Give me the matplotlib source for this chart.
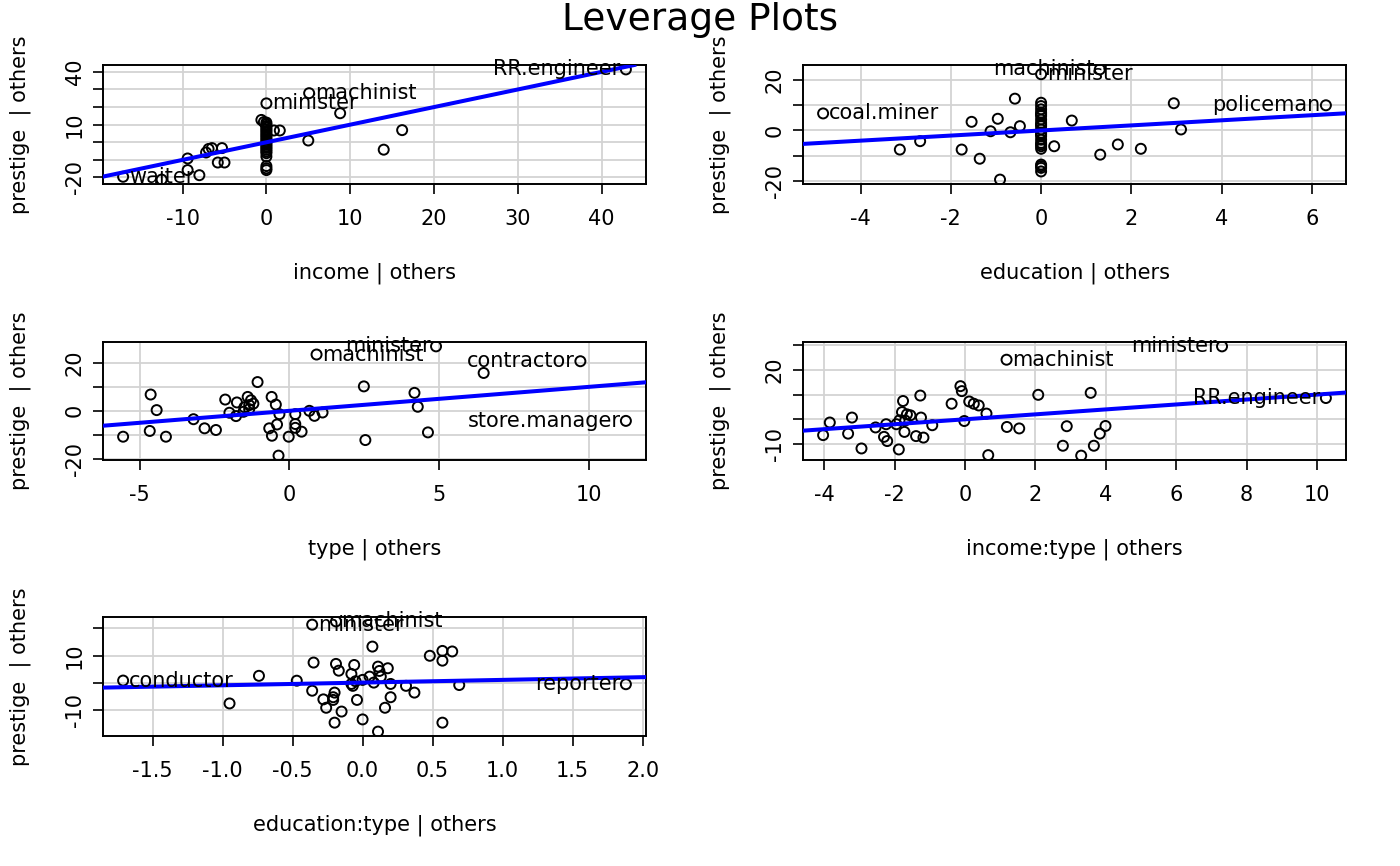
import numpy as np
import matplotlib.pyplot as plt

plt.rcParams['font.family'] = ['DejaVu Sans']

# ---- income | others
inc_x = [-12.5, -9.4, -9.4, -8.0, -7.2, -6.9, -6.5, -5.3, -5.8, -5.0, -0.6, -0.3,
         0, 0, 0, 0, 0, 0, 0, 0, 0, 0, 0, 0, 0, 0, 0.9, 1.6, 5.0, 8.8, 14.0, 16.2,
         0, 0, 0, 0, 0, 0, 0, 0, 0]
inc_y = [-21.2, -9.2, -15.8, -18.7, -5.8, -3.8, -3.3, -3.3, -11.5, -11.5, 12.7, 11.5,
         11.2, 9.2, 7.3, 5.4, 3.5, 1.5, -0.4, -2.3, -4.2, -6.2, -8.1, -13.5, -14.8, -15.8,
         6.7, 6.7, 1.0, 16.5, -4.2, 6.9,
         10.2, 8.3, 6.4, 4.4, 2.5, 0.5, -1.3, -3.2, -5.2]
inc_names = ['waiter', 'minister', 'machinist', 'RR.engineer']
inc_nx = [-17.1, 0.0, 5.1, 42.9]
inc_ny = [-19.6, 22.1, 27.9, 41.4]

# ---- education | others
edu_x = [-3.13, -2.68, -1.76, -1.54, -1.36, -1.12, -0.96, -0.91, -0.68, -0.58, -0.47,
         0, 0, 0, 0, 0, 0, 0, 0, 0, 0, 0, 0, 0, 0, 0, 0, 0, 0,
         0.29, 0.68, 1.31, 1.70, 2.21, 2.94, 3.10,
         0, 0, 0, 0, 0]
edu_y = [-7.5, -4.2, -7.5, 3.4, -11.1, -0.3, 4.6, -19.3, -0.7, 12.5, 1.7,
         10.9, 9.6, 8.3, 7.0, 5.7, 4.3, 3.0, 1.7, 0.4, -0.9, -2.2, -3.6, -4.9, -6.2, -7.2,
         -13.4, -14.7, -16.1,
         -6.2, 3.9, -9.5, -5.5, -7.2, 10.7, 0.4,
         6.4, 2.3, -1.5, -5.5, -14.0]
edu_names = ['coal.miner', 'machinist', 'minister', 'policeman']
edu_nx = [-4.83, 1.3, 0.0, 6.31]
edu_ny = [6.7, 24.0, 22.1, 9.9]

# ---- type | others
typ_x = [-5.55, -4.63, -4.66, -4.43, -4.12, -3.2, -2.83, -2.45, -2.14, -2.0, -1.78, -1.75,
         -1.53, -1.39, -1.34, -1.28, -1.34, -1.06, -0.59, -0.45, -0.33, -0.67, -0.41, -0.58,
         -0.36, -0.02, 0.2, 0.2, 0.2, 0.41, 0.67, 0.84, 1.11,
         2.49, 2.54, 4.18, 4.29, 4.63, 6.49, -1.5, -1.2]
typ_y = [-10.8, 6.8, -8.4, 0.3, -10.8, -3.5, -7.3, -8.0, 4.7, -0.8, -2.2, 3.5,
         -0.4, 5.8, 2.4, 4.4, 0.7, 12.0, 5.8, 2.6, -1.4, -7.3, -5.7, -10.4,
         -18.7, -10.8, -1.4, -5.5, -7.1, -8.7, 0.0, -2.1, -0.7,
         10.2, -12.2, 7.5, 1.7, -9.0, 15.8, 1.5, 3.0]
typ_names = ['machinist', 'minister', 'contractor', 'store.manager']
typ_nx = [0.91, 4.9, 9.72, 11.24]
typ_ny = [23.5, 26.9, 20.7, -4.2]

# ---- income:type | others
it_x = [-4.03, -3.84, -3.32, -3.21, -2.94, -2.54, -2.3, -2.21, -2.24, -1.95, -1.88, -1.86,
        -1.76, -1.79, -1.72, -1.65, -1.55, -1.39, -1.27, -1.25, -1.18, -0.93, -0.38, -0.13,
        -0.09, -0.02, 0.12, 0.25, 0.39, 0.61, 0.66, 1.19, 1.54, 2.08, 2.78, 2.89, 3.30,
        3.57, 3.66, 3.83, 3.99, -1.7]
it_y = [-6.4, -1.3, -5.8, 0.7, -11.8, -3.3, -7.1, -8.8, -2.0, -2.0, -12.2, -0.4,
        7.4, 2.9, -5.1, 2.0, 1.6, -6.8, 9.6, 0.7, -7.4, -2.4, 6.3, 13.4,
        11.4, -0.7, 7.2, 6.3, 5.6, 2.3, -14.5, -3.1, -3.7, 9.9, -10.7, -2.8, -14.7,
        10.7, -10.7, -5.8, -2.7, -0.5]
it_names = ['machinist', 'minister', 'RR.engineer']
it_nx = [1.18, 7.30, 10.25]
it_ny = [24.1, 29.5, 8.6]

# ---- education:type | others
et_x = [-0.95, -0.74, -0.47, -0.36, -0.35, -0.28, -0.26, -0.2, -0.21, -0.21, -0.2, -0.19,
        -0.17, -0.15, -0.08, -0.08, -0.07, -0.06, -0.04, 0.0, 0.0, 0.05, 0.07, 0.08, 0.11,
        0.11, 0.12, 0.13, 0.18, 0.2, 0.2, 0.16, 0.31, 0.37, 0.48, 0.57, 0.57, 0.64, 0.57,
        0.69, -0.05]
et_y = [-7.7, 2.5, 0.7, -3.0, 7.4, -6.2, -9.3, -3.7, -5.4, -6.4, -14.8, 6.9,
        4.4, -10.7, 3.2, -0.5, -1.2, 6.5, -6.4, -13.6, 1.0, 2.2, 13.3, 0.0, -18.1,
        5.9, 4.3, 2.2, 5.3, -0.5, -5.4, -9.3, -1.2, -3.7, 9.9, 8.1, 11.7, 11.5, -14.8,
        -0.9, 0.5]
et_names = ['conductor', 'minister', 'machinist', 'reporter']
et_nx = [-1.71, -0.36, -0.19, 1.88]
et_ny = [0.75, 21.4, 22.6, -0.6]

xlabels = ['income | others', 'education | others', 'type | others',
           'income:type | others', 'education:type | others']
xticks = [[-10, 0, 10, 20, 30, 40], [-4, -2, 0, 2, 4, 6], [-5, 0, 5, 10],
          [-4, -2, 0, 2, 4, 6, 8, 10], [-1.5, -1.0, -0.5, 0.0, 0.5, 1.0, 1.5, 2.0]]
yticks = [[-20, -10, 0, 10, 20, 30, 40], [-20, -10, 0, 10, 20], [-20, -10, 0, 10, 20],
          [-10, 0, 10, 20, 30], [-10, 0, 10, 20]]
yshown = [[-20, 10, 40], [-20, 0, 20], [-20, 0, 20], [-10, 20], [-10, 10]]
slopes = [1.0, 1.0, 1.0, 1.0, 1.0]

panels = [
    (inc_x, inc_y, inc_names, inc_nx, inc_ny),
    (edu_x, edu_y, edu_names, edu_nx, edu_ny),
    (typ_x, typ_y, typ_names, typ_nx, typ_ny),
    (it_x, it_y, it_names, it_nx, it_ny),
    (et_x, et_y, et_names, et_nx, et_ny),
]

W, H = 1400, 866
boxes = [(103, 65, 543, 119), (803, 65, 543, 119),
         (103, 342, 543, 118), (803, 342, 543, 118),
         (103, 617, 543, 119)]

fig = plt.figure(figsize=(14, 8.66), dpi=100)
fig.text(0.5, 1 - 20 / H, 'Leverage Plots', ha='center', va='center', fontsize=27)

for i, (px, py, names, nx, ny) in enumerate(panels):
    l, t, w, h = boxes[i]
    ax = fig.add_axes([l / W, 1 - (t + h) / H, w / W, h / H])
    allx = np.array(px + nx)
    ally = np.array(py + ny)

    ax.scatter(allx, ally, s=52, facecolors='none', edgecolors='black',
               linewidths=1.4, zorder=3)
    ax.axline((0, 0), slope=slopes[i], color='blue', lw=2.9, zorder=4)

    xr = allx.max() - allx.min()
    yr = ally.max() - ally.min()
    ax.set_xticks(xticks[i])
    ax.set_yticks(yticks[i])
    ax.set_xticklabels([f'{v:g}' if i < 4 else f'{v:.1f}' for v in xticks[i]])
    ax.set_yticklabels([str(v) if v in yshown[i] else '' for v in yticks[i]],
                       rotation=90, va='center')
    ax.set_xlim(allx.min() - 0.04 * xr, allx.max() + 0.04 * xr)
    ax.set_ylim(ally.min() - 0.04 * yr, ally.max() + 0.04 * yr)

    ax.grid(color='#D3D3D3', lw=1.3, zorder=0)
    ax.set_axisbelow(True)
    ax.tick_params(axis='both', labelsize=15, length=7, width=1.2)
    ax.tick_params(axis='x', pad=11)
    ax.tick_params(axis='y', pad=6)
    for s in ax.spines.values():
        s.set_linewidth(1.4)

    mid = (allx.min() + allx.max()) / 2
    for name, x0, y0 in zip(names, nx, ny):
        if x0 > mid:
            ax.annotate(name, (x0, y0), xytext=(-4, 0), textcoords='offset points',
                        ha='right', va='center', fontsize=15, zorder=5,
                        annotation_clip=False).set_clip_on(True)
        else:
            ax.annotate(name, (x0, y0), xytext=(4, 0), textcoords='offset points',
                        ha='left', va='center', fontsize=15, zorder=5,
                        annotation_clip=False).set_clip_on(True)

    ax.text(-83 / w, 0.5, 'prestige  | others', transform=ax.transAxes,
            rotation=90, ha='center', va='center', fontsize=15)
    ax.text(0.5, -89 / h, xlabels[i], transform=ax.transAxes,
            ha='center', va='center', fontsize=15)

fig.savefig('out.png', dpi=100)
